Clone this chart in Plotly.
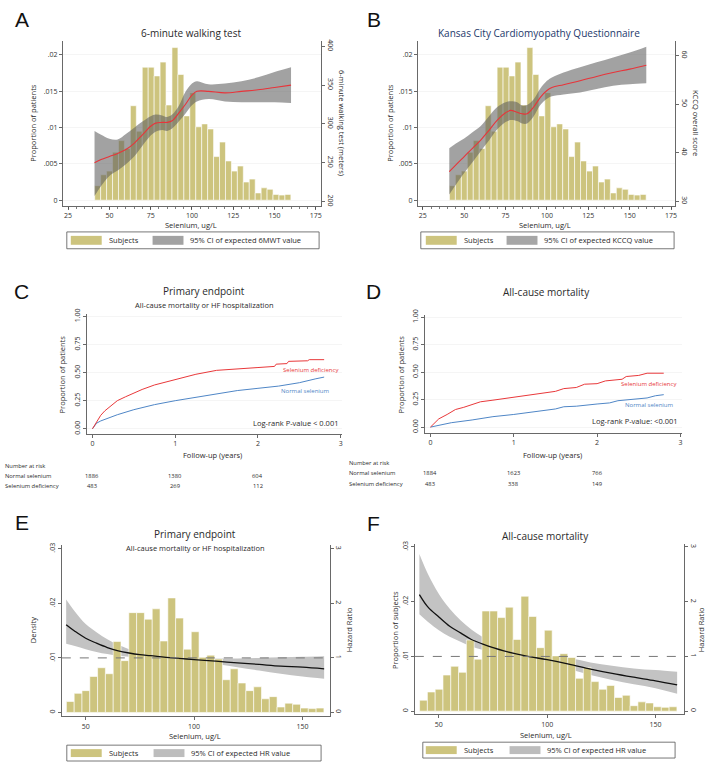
import plotly.graph_objects as go

W, H = 709, 763
FONT = "Open Sans"

def px(x):
    return x / W

def py(y):
    return 1 - y / H

# ---------------- DATA ----------------
bin_centers = [42.9, 46.5, 50.1, 53.7, 57.3, 60.9, 64.5, 68.1, 71.7, 75.3, 78.9, 82.5, 86.1,
               89.7, 93.3, 96.9, 100.5, 104.1, 107.7, 111.3, 114.9, 118.5, 122.1, 125.7,
               129.3, 132.9, 136.5, 140.1, 143.7, 147.3, 150.9, 154.5, 158.1]
subject_prop = [0.0020, 0.0035, 0.0040, 0.0066, 0.0082, 0.0071, 0.0130, 0.0095, 0.0183, 0.0183,
                0.0171, 0.0190, 0.0131, 0.0210, 0.0173, 0.0116, 0.0148, 0.0101, 0.0105, 0.0098,
                0.0060, 0.0080, 0.0054, 0.0040, 0.0047, 0.0025, 0.0029, 0.0010, 0.0017, 0.0015,
                0.0008, 0.0007, 0.0008]

sel_fit = [41, 45, 50, 55, 60, 65, 70, 75, 78, 82, 85, 88, 92, 96, 100, 103, 110, 120, 130, 140, 150, 160]
mwt_fit = [250, 254, 258, 262, 267, 275, 286, 297, 301, 302, 302, 304, 314, 325, 337, 342, 342, 340, 342, 344, 347, 350]
mwt_hi = [291, 286, 281, 280, 287, 295, 303, 310, 312, 311, 309, 312, 323, 341, 352, 355, 351, 352, 355, 360, 367, 373]
mwt_lo = [207, 220, 233, 240, 248, 258, 272, 285, 290, 292, 291, 294, 303, 313, 324, 329, 332, 329, 328, 328, 328, 327]

kccq_fit = [36.1, 37.5, 39.2, 40.9, 42.6, 44.6, 46.7, 48.2, 48.7, 48.3, 48.0, 48.0, 49.4, 51.4, 52.8, 53.4, 54.0, 54.8, 55.7, 56.5, 57.2, 58.0]
kccq_hi = [40.9, 41.9, 42.9, 44.2, 45.5, 47.5, 49.4, 50.4, 50.6, 50.4, 49.7, 49.8, 51.0, 53.2, 54.8, 55.5, 56.5, 57.6, 58.6, 59.6, 60.6, 61.8]
kccq_lo = [31.4, 33.4, 35.8, 38.0, 40.3, 42.5, 44.8, 46.3, 46.7, 46.5, 46.0, 46.0, 47.5, 49.8, 51.1, 51.6, 52.0, 52.4, 53.1, 53.8, 54.1, 54.3]

# Kaplan-Meier (cumulative incidence)
c_def_t = [0, 0.03, 0.06, 0.1, 0.15, 0.2, 0.3, 0.4, 0.5, 0.6, 0.75, 0.9, 1.0, 1.25, 1.5, 1.75, 2.0, 2.2, 2.22, 2.35, 2.37, 2.6, 2.62, 2.8]
c_def_p = [0, 0.04, 0.08, 0.12, 0.16, 0.19, 0.25, 0.285, 0.32, 0.35, 0.39, 0.42, 0.44, 0.485, 0.52, 0.535, 0.545, 0.555, 0.575, 0.58, 0.60, 0.605, 0.615, 0.615]
c_nor_t = [0, 0.03, 0.05, 0.1, 0.2, 0.3, 0.5, 0.75, 1.0, 1.25, 1.5, 1.75, 2.0, 2.25, 2.5, 2.6, 2.7, 2.8]
c_nor_p = [0, 0.03, 0.05, 0.07, 0.10, 0.125, 0.17, 0.215, 0.25, 0.28, 0.305, 0.34, 0.36, 0.38, 0.41, 0.43, 0.445, 0.46]

d_def_t = [0, 0.05, 0.1, 0.2, 0.3, 0.4, 0.5, 0.6, 0.75, 1.0, 1.25, 1.5, 1.6, 1.75, 1.85, 2.0, 2.1, 2.3, 2.35, 2.5, 2.6, 2.8]
d_def_p = [0, 0.04, 0.075, 0.115, 0.16, 0.18, 0.205, 0.23, 0.245, 0.27, 0.30, 0.325, 0.35, 0.36, 0.39, 0.395, 0.42, 0.435, 0.46, 0.47, 0.49, 0.49]
d_nor_t = [0, 0.25, 0.5, 0.75, 1.0, 1.25, 1.5, 1.6, 1.75, 2.0, 2.15, 2.25, 2.5, 2.6, 2.7, 2.8]
d_nor_p = [0, 0.04, 0.065, 0.095, 0.115, 0.14, 0.165, 0.185, 0.19, 0.21, 0.22, 0.24, 0.255, 0.265, 0.285, 0.295]

risk_times = [0, 1, 2]
c_risk_normal = [1886, 1380, 604]
c_risk_def = [483, 269, 112]
d_risk_normal = [1884, 1623, 766]
d_risk_def = [483, 338, 149]

sel_hr = [41, 45, 50, 55, 60, 65, 70, 75, 80, 90, 100, 110, 120, 130, 140, 150, 160]
e_hr = [1.61, 1.49, 1.36, 1.27, 1.19, 1.13, 1.09, 1.06, 1.04, 1.00, 0.97, 0.94, 0.91, 0.88, 0.85, 0.83, 0.80]
e_hi = [2.07, 1.85, 1.62, 1.47, 1.34, 1.24, 1.16, 1.11, 1.07, 1.02, 1.00, 0.99, 0.99, 1.00, 1.01, 1.02, 1.03]
e_lo = [1.26, 1.22, 1.16, 1.11, 1.07, 1.04, 1.02, 1.01, 1.00, 0.97, 0.94, 0.89, 0.83, 0.77, 0.71, 0.66, 0.62]
f_hr = [2.13, 1.90, 1.72, 1.55, 1.43, 1.31, 1.23, 1.16, 1.10, 1.01, 0.94, 0.86, 0.77, 0.69, 0.62, 0.555, 0.48]
f_hi = [2.87, 2.50, 2.14, 1.87, 1.66, 1.49, 1.36, 1.25, 1.16, 1.04, 1.01, 0.97, 0.89, 0.83, 0.78, 0.75, 0.72]
f_lo = [1.77, 1.63, 1.48, 1.36, 1.27, 1.18, 1.12, 1.07, 1.03, 0.97, 0.88, 0.77, 0.66, 0.57, 0.49, 0.42, 0.32]

# ---------------- STYLE ----------------
BAR = "#cdc47e"
BAND_AB = "rgba(95,95,95,0.58)"
BAND_EF = "#c3c3c3"
RED = "#e8343a"
KM_RED = "#e8383a"
KM_BLUE = "#4f86c6"
AXC = "#444444"
TXT = "#2a2a2a"

fig = go.Figure()

def band(x, lo, hi, xa, ya, color):
    fig.add_trace(go.Scatter(x=x, y=lo, mode="lines", line=dict(width=0, shape="spline"),
                             hoverinfo="skip", xaxis=xa, yaxis=ya))
    fig.add_trace(go.Scatter(x=x, y=hi, mode="lines", line=dict(width=0, shape="spline"),
                             fill="tonexty", fillcolor=color, hoverinfo="skip", xaxis=xa, yaxis=ya))

def bars(xa, ya):
    fig.add_trace(go.Bar(x=bin_centers, y=subject_prop, width=3.6, marker_color=BAR,
                         marker_line=dict(color="white", width=0.6), xaxis=xa, yaxis=ya))

# Panel A
bars("x", "y")
band(sel_fit, mwt_lo, mwt_hi, "x", "y2", BAND_AB)
fig.add_trace(go.Scatter(x=sel_fit, y=mwt_fit, mode="lines", line=dict(color=RED, width=1.1, shape="spline"),
                         xaxis="x", yaxis="y2"))
# Panel B
bars("x2", "y3")
band(sel_fit, kccq_lo, kccq_hi, "x2", "y4", BAND_AB)
fig.add_trace(go.Scatter(x=sel_fit, y=kccq_fit, mode="lines", line=dict(color=RED, width=1.1, shape="spline"),
                         xaxis="x2", yaxis="y4"))
# Panel C
fig.add_trace(go.Scatter(x=c_nor_t, y=c_nor_p, mode="lines", line=dict(color=KM_BLUE, width=1.0), xaxis="x3", yaxis="y5"))
fig.add_trace(go.Scatter(x=c_def_t, y=c_def_p, mode="lines", line=dict(color=KM_RED, width=1.0), xaxis="x3", yaxis="y5"))
# Panel D
fig.add_trace(go.Scatter(x=d_nor_t, y=d_nor_p, mode="lines", line=dict(color=KM_BLUE, width=1.0), xaxis="x4", yaxis="y6"))
fig.add_trace(go.Scatter(x=d_def_t, y=d_def_p, mode="lines", line=dict(color=KM_RED, width=1.0), xaxis="x4", yaxis="y6"))
# Panel E: band (base HR axis y7), bars (density y8), line (HR y9)
band(sel_hr, e_lo, e_hi, "x5", "y7", BAND_EF)
bars("x5", "y8")
fig.add_trace(go.Scatter(x=sel_hr, y=e_hr, mode="lines", line=dict(color="#111", width=1.3, shape="spline"),
                         xaxis="x5", yaxis="y9"))
# Panel F
band(sel_hr, f_lo, f_hi, "x6", "y10", BAND_EF)
bars("x6", "y11")
fig.add_trace(go.Scatter(x=sel_hr, y=f_hr, mode="lines", line=dict(color="#111", width=1.3, shape="spline"),
                         xaxis="x6", yaxis="y12"))

tickfont = dict(family=FONT, size=7, color="#333")
base_ax = dict(showline=True, linecolor=AXC, linewidth=0.8, ticks="outside", tickcolor=AXC, ticklen=3,
               tickwidth=0.8, tickfont=tickfont, zeroline=False, showgrid=False, fixedrange=True)

def ax(**kw):
    d = dict(base_ax)
    d.update(kw)
    return d

# domains (pixel based)
A_x = [px(63), px(322)]; AB_y = [py(202), py(35)]
B_x = [px(419), px(677)]
C_x = [px(87), px(343)]; C_y = [py(431.7), py(311)]
D_x = [px(426), px(684)]; D_y = [py(431), py(312)]
E_x = [px(62), px(330.7)]; E_y = [py(717), py(544)]
F_x = [px(416), px(686)]; F_y = [py(715), py(543)]

sel_ticks = [25, 50, 75, 100, 125, 150, 175]
prop_ticks = [0, 0.005, 0.01, 0.015, 0.02]
prop_text = ["0", ".005", ".01", ".015", ".02"]
minor = dict(dtick=5, ticks="outside", ticklen=2, tickcolor=AXC, tickwidth=0.7, showgrid=False)
grid = dict(showgrid=True, gridcolor="#eeeeee", gridwidth=0.6)

fig.update_layout(
    width=W, height=H, margin=dict(l=0, r=0, t=0, b=0), paper_bgcolor="white", plot_bgcolor="white",
    showlegend=False, barmode="overlay",
    xaxis=ax(domain=A_x, range=[21.8, 178.2], anchor="y", tickvals=sel_ticks, minor=minor),
    yaxis=ax(domain=AB_y, range=[-0.00082, 0.02195], anchor="x", tickvals=prop_ticks, ticktext=prop_text, **grid),
    yaxis2=ax(overlaying="y", side="right", anchor="x", range=[194, 407.3], tickvals=[200, 250, 300, 350, 400], tickangle=90),
    xaxis2=ax(domain=B_x, range=[22, 177.4], anchor="y3", tickvals=sel_ticks, minor=minor),
    yaxis3=ax(domain=AB_y, range=[-0.00082, 0.02195], anchor="x2", tickvals=prop_ticks, ticktext=prop_text, **grid),
    yaxis4=ax(overlaying="y3", side="right", anchor="x2", range=[28.98, 63.06], tickvals=[30, 40, 50, 60], tickangle=90),
    xaxis3=ax(domain=C_x, range=[-0.069, 3.016], anchor="y5", tickvals=[0, 1, 2, 3]),
    yaxis5=ax(domain=C_y, range=[-0.044, 1.02], anchor="x3", tickvals=[0, 0.25, 0.5, 0.75, 1.0],
              ticktext=["0.00", "0.25", "0.50", "0.75", "1.00"], tickangle=-90, **grid),
    xaxis4=ax(domain=D_x, range=[-0.068, 3.02], anchor="y6", tickvals=[0, 1, 2, 3]),
    yaxis6=ax(domain=D_y, range=[-0.054, 1.018], anchor="x4", tickvals=[0, 0.25, 0.5, 0.75, 1.0],
              ticktext=["0.00", "0.25", "0.50", "0.75", "1.00"], tickangle=-90, **grid),
    xaxis5=ax(domain=E_x, range=[39, 162.6], anchor="y8", tickvals=[50, 100, 150]),
    yaxis7=ax(domain=E_y, range=[-0.073, 3.07], anchor="x5", showline=False, ticks="", showticklabels=False),
    yaxis8=ax(overlaying="y7", side="left", anchor="x5", range=[-0.00073, 0.0307], tickvals=[0, 0.01, 0.02, 0.03],
              ticktext=["0", ".01", ".02", ".03"], tickangle=-90),
    yaxis9=ax(overlaying="y7", side="right", anchor="x5", range=[-0.073, 3.07], tickvals=[0, 1, 2, 3], tickangle=90),
    xaxis6=ax(domain=F_x, range=[38.9, 163.2], anchor="y11", tickvals=[50, 100, 150]),
    yaxis10=ax(domain=F_y, range=[-0.06, 3.054], anchor="x6", showline=False, ticks="", showticklabels=False),
    yaxis11=ax(overlaying="y10", side="left", anchor="x6", range=[-0.0006, 0.03054], tickvals=[0, 0.01, 0.02, 0.03],
               ticktext=["0", ".01", ".02", ".03"], tickangle=-90),
    yaxis12=ax(overlaying="y10", side="right", anchor="x6", range=[-0.06, 3.054], tickvals=[0, 1, 2, 3], tickangle=90),
)

# reference lines at HR = 1
for xa, ya in [("x5", "y9"), ("x6", "y12")]:
    fig.add_shape(type="line", xref=xa + " domain", yref=ya, x0=0, x1=1, y0=1, y1=1,
                  line=dict(color="#777", width=1, dash="dash"), layer="above")

anns = []

def ann(text, x, y, size, color=TXT, xanchor="center", angle=0, family=FONT, xref="paper"):
    anns.append(dict(text=text, x=x if xref != "paper" else px(x), y=py(y), xref=xref, yref="paper",
                     showarrow=False, xanchor=xanchor, yanchor="middle", textangle=angle,
                     font=dict(family=family, size=size, color=color)))

LET = "Liberation Sans"
ann("A", 22, 14, 21, "#111", family=LET)
ann("B", 375, 14, 21, "#111", family=LET)
ann("C", 22, 288, 21, "#111", family=LET)
ann("D", 375, 288, 21, "#111", family=LET)
ann("E", 22, 521, 21, "#111", family=LET)
ann("F", 375, 522, 21, "#111", family=LET)

# titles
ann("6-minute walking test", 192, 27, 10)
ann("Kansas City Cardiomyopathy Questionnaire", 541, 27, 10, "#24386b")
ann("Primary endpoint", 205, 288, 10)
ann("All-cause mortality or HF hospitalization", 205, 302, 7.5)
ann("All-cause mortality", 548, 289, 10)
ann("Primary endpoint", 196, 533, 10)
ann("All-cause mortality or HF hospitalization", 196, 547, 7.5)
ann("All-cause mortality", 547, 535, 10)

# axis titles
ann("Proportion of patients", 33, 118, 7.5, angle=-90)
ann("6-minute walking test (meters)", 343, 118, 7.5, angle=90)
ann("Selenium, ug/L", 192, 221, 7.5)
ann("Proportion of patients", 391, 118, 7.5, angle=-90)
ann("KCCQ overall score", 698, 118, 7.5, angle=90)
ann("Selenium, ug/L", 547, 221, 7.5)
ann("Proportion of patients", 62, 372, 7.5, angle=-90)
ann("Follow-up (years)", 213, 453, 7.5)
ann("Proportion of patients", 402, 372, 7.5, angle=-90)
ann("Follow-up (years)", 554, 453, 7.5)
ann("Density", 33, 630, 7.5, angle=-90)
ann("Hazard Ratio", 350, 630, 7.5, angle=-90)
ann("Selenium, ug/L", 196, 737, 7.5)
ann("Proportion of subjects", 396, 630, 7.5, angle=-90)
ann("Hazard Ratio", 703, 630, 7.5, angle=-90)
ann("Selenium, ug/L", 548, 736, 7.5)

# KM labels
ann("Selenium deficiency", 311, 367, 6, KM_RED)
ann("Normal selenium", 306, 389, 6, KM_BLUE)
ann("Log-rank P-value < 0.001", 342, 421, 7.5, xanchor="right")
ann("Selenium deficiency", 650, 382, 6, KM_RED)
ann("Normal selenium", 651, 403, 6, KM_BLUE)
ann("Log-rank P-value: <0.001", 682, 419, 7.5, xanchor="right")

# number at risk
ann("Number at risk", 3, 464, 5.8, xanchor="left")
ann("Normal selenium", 3, 474, 5.8, xanchor="left")
ann("Selenium deficiency", 3, 484, 5.8, xanchor="left")
ann("Number at risk", 348, 461, 5.8, xanchor="left")
ann("Normal selenium", 348, 471, 5.8, xanchor="left")
ann("Selenium deficiency", 348, 482, 5.8, xanchor="left")
for t, n1, n2 in zip(risk_times, c_risk_normal, c_risk_def):
    ann(str(n1), t, 474, 5.8, xref="x3")
    ann(str(n2), t, 484, 5.8, xref="x3")
for t, n1, n2 in zip(risk_times, d_risk_normal, d_risk_def):
    ann(str(n1), t, 471, 5.8, xref="x4")
    ann(str(n2), t, 482, 5.8, xref="x4")

# legends (boxes with swatches)
shapes = []

def legend(x0, x1, y0, y1, sw1, sw2, band_color, label2):
    shapes.append(dict(type="rect", xref="paper", yref="paper", x0=px(x0), x1=px(x1), y0=py(y1), y1=py(y0),
                       line=dict(color="#555", width=0.8), fillcolor="white", layer="above"))
    sy0, sy1 = y0 + 4, y1 - 4
    shapes.append(dict(type="rect", xref="paper", yref="paper", x0=px(sw1), x1=px(sw1 + 31), y0=py(sy1), y1=py(sy0),
                       line=dict(width=0), fillcolor=BAR, layer="above"))
    shapes.append(dict(type="rect", xref="paper", yref="paper", x0=px(sw2), x1=px(sw2 + 31), y0=py(sy1), y1=py(sy0),
                       line=dict(width=0), fillcolor=band_color, layer="above"))
    ym = (y0 + y1) / 2
    ann("Subjects", sw1 + 36, ym, 7.5, xanchor="left")
    ann(label2, sw2 + 36, ym, 7.5, xanchor="left")

legend(67, 320, 228, 245, 71, 153, "#a2a2a2", "95% CI of expected 6MWT value")
legend(422, 676, 228, 245, 427, 508, "#a6a6a6", "95% CI of expected KCCQ value")
legend(67, 322, 746, 762, 71, 154, "#bdbdbd", "95% CI of expected HR value")
legend(424, 677, 743, 759, 427, 511, "#bdbdbd", "95% CI of expected HR value")

fig.update_layout(annotations=anns, shapes=fig.layout.shapes + tuple(shapes))
fig.write_html("out.html", config={"displayModeBar": False, "staticPlot": True},
               post_script="document.body.style.margin='0';document.body.style.overflow='hidden';")
